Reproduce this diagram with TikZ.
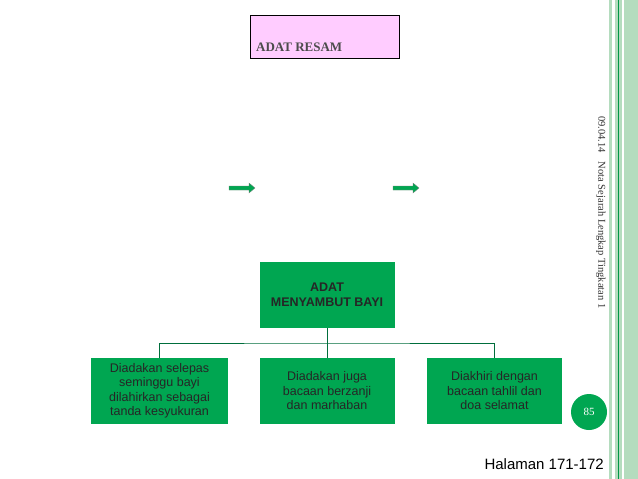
\documentclass[tikz,border=0pt]{standalone}
\usepackage{fontspec}
\setmainfont{Liberation Serif}
\setsansfont{Liberation Sans}
\definecolor{gfill}{RGB}{0,166,81}
\definecolor{gline}{RGB}{0,110,60}
\definecolor{stripe}{RGB}{180,220,190}
\definecolor{sline}{RGB}{0,150,70}
\definecolor{pinkf}{RGB}{255,204,255}
\begin{document}
\begin{tikzpicture}[x=1pt,y=-1pt,
  gbox/.style={draw=none,fill=gfill,minimum width=135,minimum height=66,align=center,font=\sffamily\fontsize{12.5}{14.5}\selectfont,text=black!85},
  conn/.style={draw=gline,line width=0.8pt},
  garrow/.style={fill=gfill,draw=black!50,line width=0.3pt}]
\useasboundingbox (0,0) rectangle (638,479);
\fill[white] (0,0) rectangle (638,479);
% right stripes
\fill[stripe] (609,0) rectangle (638,479);
\fill[white] (612,0) rectangle (615,479);
\draw[sline,line width=0.8pt] (618,0) -- (618,479);
\fill[white] (622,0) rectangle (624,479);
% title
\node[draw=black,line width=1.2pt,fill=pinkf,minimum width=149,minimum height=43,anchor=north west,inner sep=0] (title) at (250,15) {};
\node[anchor=base west,font=\bfseries\fontsize{13}{15}\selectfont,text=black!70,inner sep=0] (tt) at (256,51) {ADAT RESAM};
% arrows
\fill[garrow] (229,186) -- (249,186) -- (249,183) -- (255,188) -- (249,193) -- (249,190) -- (229,190) -- cycle;
\fill[garrow] (393,186) -- (413,186) -- (413,183) -- (419,188) -- (413,193) -- (413,190) -- (393,190) -- cycle;
% tree
\node[gbox,font=\sffamily\bfseries\fontsize{12.5}{15}\selectfont] (root) at (327,295) {ADAT\\MENYAMBUT BAYI};
\node[gbox,minimum width=137] (c1) at (159.5,391) {Diadakan selepas\\seminggu bayi\\dilahirkan sebagai\\tanda kesyukuran};
\node[gbox] (c2) at (327,391) {Diadakan juga\\bacaan berzanji\\dan marhaban};
\node[gbox] (c3) at (494.5,391) {Diakhiri dengan\\bacaan tahlil dan\\doa selamat};
\coordinate (j) at (327,343);
\draw[conn] (root.south) -- (j);
\draw[conn] (c1.north) |- (j) -| (c3.north);
\draw[conn] (j) -- (c2.north);
% page number
\node[circle,fill=gfill,minimum size=36,text=white,font=\fontsize{11}{13}\selectfont,inner sep=0] (pg) at (589,412) {85};
\node[anchor=base east,font=\sffamily\fontsize{15}{17}\selectfont,inner sep=0] (hal) at (604,469) {Halaman 171-172};
\node[rotate=-90,anchor=west,font=\fontsize{10.5}{12}\selectfont,text=black!80,inner sep=0] (side) at (601,116) {09.04.14\hspace{9pt}Nota Sejarah Lengkap Tingkatan 1};
\end{tikzpicture}
\end{document}
